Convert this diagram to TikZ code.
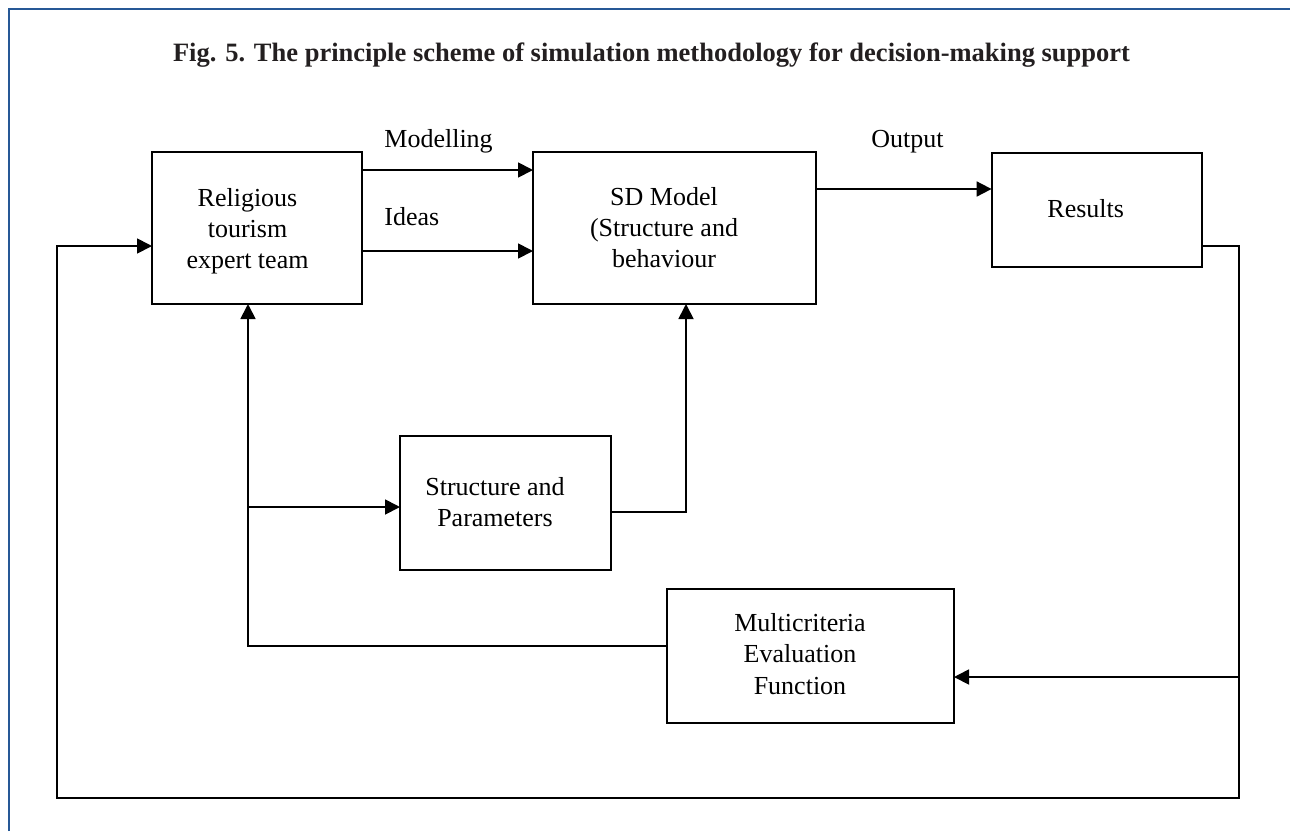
\documentclass[tikz,border=0pt]{standalone}
\usepackage{fontspec}
\setmainfont{Liberation Serif}
\usetikzlibrary{arrows.meta,calc}
\definecolor{frameblue}{RGB}{38,88,150}
\definecolor{titlegray}{RGB}{35,31,32}
\begin{document}
\begin{tikzpicture}[x=0.5pt,y=-0.5pt,
  boxnode/.style={draw=black,line width=0.9pt,inner sep=0pt,outer sep=0pt},
  txt/.style={inner sep=0pt,align=center,font=\fontsize{13pt}{15.6pt}\selectfont},
  lbl/.style={inner sep=0pt,font=\fontsize{13pt}{15.6pt}\selectfont},
  conn/.style={draw=black,line width=0.9pt},
  arr/.style={conn,-{Triangle[length=7.5pt,width=7.5pt]}}]
\useasboundingbox (0,0) rectangle (1290,831);
% frame
\draw[frameblue,line width=1.1pt] (9,831) -- (9,9) -- (1290,9);
% title
\node[inner sep=0pt,anchor=base,text=titlegray,font=\fontsize{13.25pt}{16pt}\selectfont\bfseries] (title) at (651.5,61.7)
  {Fig. 5. The principle scheme of simulation methodology for decision-making support};
% boxes
\node[boxnode,minimum width=105pt,minimum height=76pt] (rel) at (257,228) {};
\node[boxnode,minimum width=141.5pt,minimum height=76pt] (sd) at (674.5,228) {};
\node[boxnode,minimum width=105pt,minimum height=57pt] (res) at (1096.6,209.6) {};
\node[boxnode,minimum width=105.5pt,minimum height=67pt] (st) at (505.5,503) {};
\node[boxnode,minimum width=143.5pt,minimum height=67pt] (mc) at (810.5,656) {};
% box texts
\node[txt] (relT) at (247.5,231) {Religious\\tourism\\expert team};
\node[txt] (sdT) at (664,227.5) {SD Model\\(Structure and\\behaviour};
\node[lbl,anchor=base] (resT) at (1085.7,217.7) {Results};
\node[txt] (stT) at (495,502) {Structure and\\Parameters};
\node[txt] (mcT) at (800,654) {Multicriteria\\Evaluation\\Function};
% labels
\node[lbl,anchor=base west] (modL) at (384,147) {Modelling};
\node[lbl,anchor=base west] (ideL) at (384,225) {Ideas};
\node[lbl,anchor=base west] (outL) at (871,147) {Output};
% helper coordinates
\coordinate (yM) at (0,170);
\coordinate (yI) at (0,251);
\coordinate (yO) at (0,189);
\coordinate (jR) at (1239,246);
\coordinate (jRm) at (1239,677);
\coordinate (jRb) at (1239,798);
\coordinate (jLb) at (57,798);
\coordinate (jL) at (57,246);
\coordinate (jS) at (248,646);
\coordinate (jSm) at (248,507);
\coordinate (jP) at (686,512);
% connectors
\draw[arr] (rel.east |- yM) -- (sd.west |- yM);
\draw[arr] (rel.east |- yI) -- (sd.west |- yI);
\draw[arr] (sd.east |- yO) -- (res.west |- yO);
\draw[arr] (res.east |- jR) -- (jR) -- (jRb) -- (jLb) -- (jL) -- (rel.west |- jL);
\draw[arr] (jRm) -- (mc.east |- jRm);
\draw[arr] (mc.west |- jS) -- (jS) -- (rel.south -| jS);
\draw[arr] (jSm) -- (st.west |- jSm);
\draw[arr] (st.east |- jP) -- (jP) -- (sd.south -| jP);
\end{tikzpicture}
\end{document}
